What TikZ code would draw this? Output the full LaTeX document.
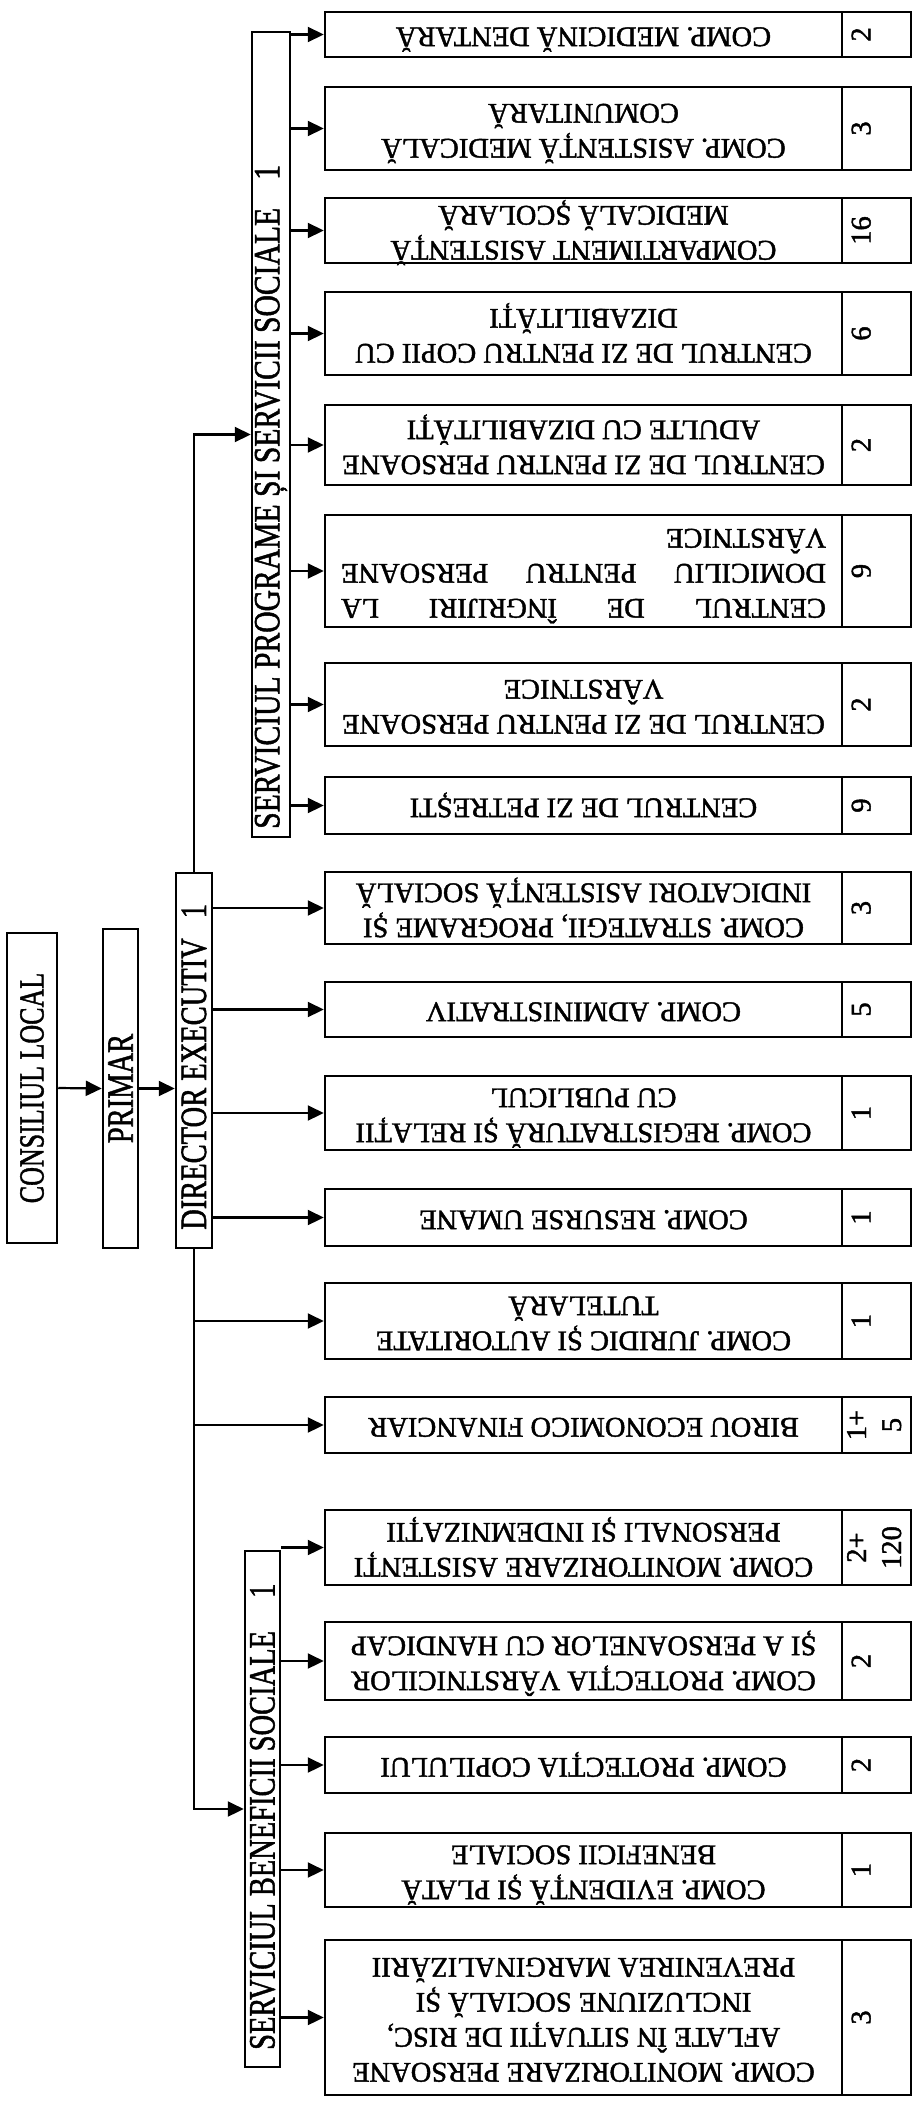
\documentclass[tikz,border=0pt]{standalone}
\usepackage{fontspec}
\setmainfont[RawFeature={embolden=1.5}]{Liberation Serif}
\usepackage{graphicx}
\usetikzlibrary{arrows.meta}
\newcommand\ubox[6]{%
  \node[unit, minimum height=#3pt] (#1) at (583.5,#2) {};
  \node[txt] (#1t) at (#1.center) {\rotatebox{180}{\begin{tabular}{@{}c@{}}#4\end{tabular}}};
  \node[num, minimum height=#3pt] (#1n) at (876.5,#2) {};
  \node[txt, xshift=#6pt] (#1m) at (#1n.center) {\rotatebox{90}{\begin{tabular}{@{}c@{}}#5\end{tabular}}};
}
\newcommand\tall[2][1.3]{\scalebox{1}[#1]{#2}}
\begin{document}
\begin{tikzpicture}[x=1pt,y=-1pt,
  every node/.style={font=\fontsize{28.5}{35}\selectfont},
  unit/.style={draw, line width=2.5pt, inner sep=0pt, minimum width=517pt},
  num/.style={draw, line width=2.5pt, inner sep=0pt, minimum width=69pt},
  head/.style={draw, line width=2.5pt, inner sep=0pt},
  txt/.style={inner sep=0pt},
  lbl/.style={rotate=90, anchor=west, inner sep=0pt},
  arr/.style={line width=2.2pt, -{Triangle[length=16pt,width=15pt]}}]
\useasboundingbox (0,0) rectangle (922,2101);

% main column
\node[head, minimum width=50pt, minimum height=310pt] (cl) at (32,1088) {};
\node[txt, rotate=90, font=\fontsize{26}{31}\selectfont] (clt) at (cl.center) {\tall[1.35]{CONSILIUL LOCAL}};
\node[head, minimum width=35pt, minimum height=319pt] (pr) at (120.5,1088.5) {};
\node[txt, rotate=90] (prt) at (pr.center) {\tall{PRIMAR}};
\node[head, minimum width=36pt, minimum height=375pt] (dir) at (194,1060.5) {};
\node[lbl] (dirt) at (194,1230) {\tall{DIRECTOR EXECUTIV\hspace{20pt}1}};

% service boxes
\node[head, minimum width=38pt, minimum height=805pt] (sp) at (271,434.5) {};
\node[lbl] (spt) at (271,829) {\scalebox{1.04}[1.3]{SERVICIUL PROGRAME ȘI SERVICII SOCIALE\hspace{27pt}1}};
\node[head, minimum width=35pt, minimum height=516pt] (sb) at (262.5,1809) {};
\node[lbl] (sbt) at (262.5,2050) {\tall{SERVICIUL BENEFICII SOCIALE\hspace{33pt}1}};

% unit boxes
\ubox{b1}{34.5}{45}{COMP. MEDICINĂ DENTARĂ}{2}{-13}
\ubox{b2}{128.5}{83}{COMP. ASISTENȚĂ MEDICALĂ\\COMUNITARĂ}{3}{-13}
\ubox{b3}{230.5}{65}{COMPARTIMENT ASISTENȚĂ\\MEDICALĂ ȘCOLARĂ}{16}{-13}
\ubox{b4}{333.5}{83}{CENTRUL DE ZI PENTRU COPII CU\\DIZABILITĂȚI}{6}{-13}
\ubox{b5}{445}{80}{CENTRUL DE ZI PENTRU PERSOANE\\ADULTE CU DIZABILITĂȚI}{2}{-13}
\ubox{b6}{571}{112}{\makebox[485pt][s]{CENTRUL DE ÎNGRIJIRI LA}\\\makebox[485pt][s]{DOMICILIU PENTRU PERSOANE}\\\makebox[485pt][l]{VÂRSTNICE}}{9}{-13}
\ubox{b7}{704.5}{83}{CENTRUL DE ZI PENTRU PERSOANE\\VÂRSTNICE}{2}{-13}
\ubox{b8}{805.5}{57}{CENTRUL DE ZI PETREȘTI}{9}{-13}
\ubox{b9}{908}{72}{COMP. STRATEGII, PROGRAME ȘI\\INDICATORI ASISTENȚĂ SOCIALĂ}{3}{-13}
\ubox{b10}{1009.5}{55}{COMP. ADMINISTRATIV}{5}{-13}
\ubox{b11}{1113}{74}{COMP. REGISTRATURĂ ȘI RELAȚII\\CU PUBLICUL}{1}{-13}
\ubox{b12}{1217.5}{57}{COMP. RESURSE UMANE}{1}{-13}
\ubox{b13}{1321}{76}{COMP. JURIDIC ȘI AUTORITATE\\TUTELARĂ}{1}{-13}
\ubox{b14}{1425}{56}{BIROU ECONOMICO FINANCIAR}{1+\\5}{0}
\ubox{b15}{1547.5}{75}{COMP. MONITORIZARE ASISTENȚI\\PERSONALI ȘI INDEMNIZAȚII}{2+\\120}{0}
\ubox{b16}{1661}{78}{COMP. PROTECȚIA VÂRSTNICILOR\\ȘI A PERSOANELOR CU HANDICAP}{2}{-13}
\ubox{b17}{1765}{56}{COMP. PROTECȚIA COPILULUI}{2}{-13}
\ubox{b18}{1870}{74}{COMP. EVIDENȚĂ ȘI PLATĂ\\BENEFICII SOCIALE}{1}{-13}
\ubox{b19}{2017.5}{155}{COMP. MONITORIZARE PERSOANE\\AFLATE ÎN SITUAȚII DE RISC,\\INCLUZIUNE SOCIALĂ ȘI\\PREVENIREA MARGINALIZĂRII}{3}{-13}

% connectors
\draw[arr] (cl.east) -- (pr.west);
\draw[arr] (pr.east) -- (pr.east -| dir.west);
\draw[arr] (dir.north) |- (sp.west);
\draw[arr] (dir.south) |- (sb.west);
\foreach \b in {b9,b10,b11,b12} \draw[arr] (dir.east |- \b.west) -- (\b.west);
\foreach \b in {b13,b14} \draw[arr] (dir.south |- \b.west) -- (\b.west);
\foreach \b in {b1,b2,b3,b4,b5,b6,b7,b8} \draw[arr] (sp.east |- \b.west) -- (\b.west);
\foreach \b in {b15,b16,b17,b18,b19} \draw[arr] (sb.east |- \b.west) -- (\b.west);
\end{tikzpicture}
\end{document}
